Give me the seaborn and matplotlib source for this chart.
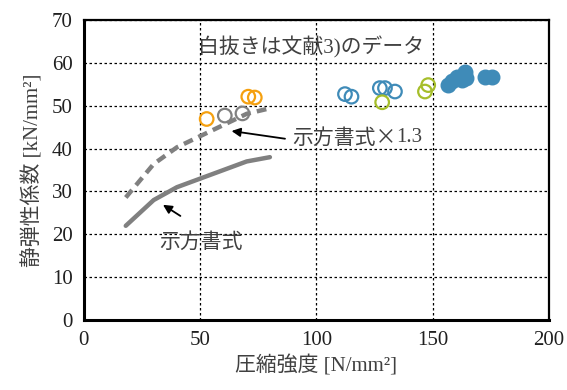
import matplotlib
matplotlib.use("Agg")
import matplotlib.pyplot as plt
import seaborn as sns
import pandas as pd

# Design-code curve (示方書式) and the same curve scaled by 1.3
code_fc = [18, 24, 30, 40, 50, 60, 70, 80]
code_e = [22, 25, 28, 31, 33, 35, 37, 38]
code_e13 = [28.6, 32.5, 36.4, 40.3, 42.9, 45.5, 48.1, 49.4]

# Literature data (open markers)
orange_fc = [52.8, 70.7, 73.5]
orange_e = [46.9, 52.1, 51.9]
gray_fc = [60.6, 68.2]
gray_e = [47.7, 48.2]
blue_fc = [112.3, 115.1, 127.3, 129.5, 133.8]
blue_e = [52.7, 52.1, 54.1, 54.1, 53.3]
green_fc = [128.3, 146.7, 148.1]
green_e = [50.8, 53.3, 54.8]

# Test data (filled markers)
filled_fc = [156.5, 158.5, 160.5, 162.5, 163.8, 164.5, 172.5, 175.5]
filled_e = [54.8, 55.8, 56.8, 56.0, 57.8, 56.4, 56.8, 56.7]

x_ticks = [0, 50, 100, 150, 200]
y_ticks = [0, 10, 20, 30, 40, 50, 60, 70]

sns.set_style("white")
plt.rcParams["font.family"] = ["Liberation Serif", "Noto Sans CJK JP"]

TXT = "#404040"
LINE_GRAY = "#808080"
C_ORANGE = "#F5A00F"
C_GRAY = "#808080"
C_BLUE = "#3F8BB8"
C_GREEN = "#A6BE2A"

fig = plt.figure(figsize=(5.67, 3.9), dpi=100)
ax = fig.add_axes([0.148, 0.179, 0.820, 0.770])

code_df = pd.DataFrame({"fc": code_fc, "e": code_e, "e13": code_e13})
sns.lineplot(data=code_df, x="fc", y="e", ax=ax, color=LINE_GRAY, lw=3.2,
             errorbar=None, zorder=3)
sns.lineplot(data=code_df, x="fc", y="e13", ax=ax, color=LINE_GRAY, lw=3.2,
             linestyle=(0, (2.2, 1.4)), errorbar=None, zorder=3)

open_sets = [
    (orange_fc, orange_e, C_ORANGE),
    (gray_fc, gray_e, C_GRAY),
    (blue_fc, blue_e, C_BLUE),
    (green_fc, green_e, C_GREEN),
]
for fx, fy, col in open_sets:
    sns.scatterplot(x=fx, y=fy, ax=ax, marker="o", s=95, facecolors="none",
                    edgecolor=col, linewidth=1.6, zorder=4)

sns.scatterplot(x=filled_fc, y=filled_e, ax=ax, marker="o", s=110,
                color=C_BLUE, edgecolor=C_BLUE, linewidth=1.0, zorder=4)

ax.set_xlim(0, 200)
ax.set_ylim(0, 70)
ax.set_xticks(x_ticks)
ax.set_yticks(y_ticks)
ax.set_xticklabels([str(v) for v in x_ticks])
ax.set_yticklabels([str(v) for v in y_ticks])
ax.tick_params(axis="both", length=0, labelsize=15, colors="#202020", pad=8)

ax.grid(True, color="black", linestyle=(0, (2, 2)), linewidth=0.9)
ax.set_axisbelow(True)

for side in ["left", "bottom"]:
    ax.spines[side].set_linewidth(2.2)
    ax.spines[side].set_color("black")
for side in ["top", "right"]:
    ax.spines[side].set_visible(True)
    ax.spines[side].set_linewidth(1.6)
    ax.spines[side].set_color("black")

ax.set_xlabel("圧縮強度 [N/mm²]", fontsize=15, color=TXT, labelpad=4)
ax.set_ylabel("静弾性係数 [kN/mm²]", fontsize=15, color=TXT, labelpad=6)

ax.text(49, 63.7, "白抜きは文献3)のデータ", fontsize=15, color=TXT,
        ha="left", va="center", zorder=5)

# "示方書式×" in the CJK face (full-width ×), followed by the factor in serif
t_head = ax.text(89.5, 42.5, "示方書式×", fontsize=15, color=TXT,
                 family=["Noto Sans CJK JP"], ha="left", va="center", zorder=5)
fig.canvas.draw()
bb = t_head.get_window_extent(fig.canvas.get_renderer())
x_after = ax.transData.inverted().transform((bb.x1, bb.y0))[0]
ax.text(x_after, 42.5, "1.3", fontsize=15, color=TXT,
        ha="left", va="center", zorder=5)

ax.text(32.5, 18.0, "示方書式", fontsize=15, color=TXT,
        ha="left", va="center", zorder=5)

ax.annotate("", xy=(63.5, 44.1), xytext=(86.5, 42.3),
            arrowprops=dict(arrowstyle="-|>", color="black", lw=1.3,
                            mutation_scale=13, shrinkA=0, shrinkB=0),
            zorder=5)
ax.annotate("", xy=(34.0, 26.9), xytext=(41.5, 24.3),
            arrowprops=dict(arrowstyle="-|>", color="black", lw=1.3,
                            mutation_scale=13, shrinkA=0, shrinkB=0),
            zorder=5)

fig.savefig("out.png", dpi=100)
